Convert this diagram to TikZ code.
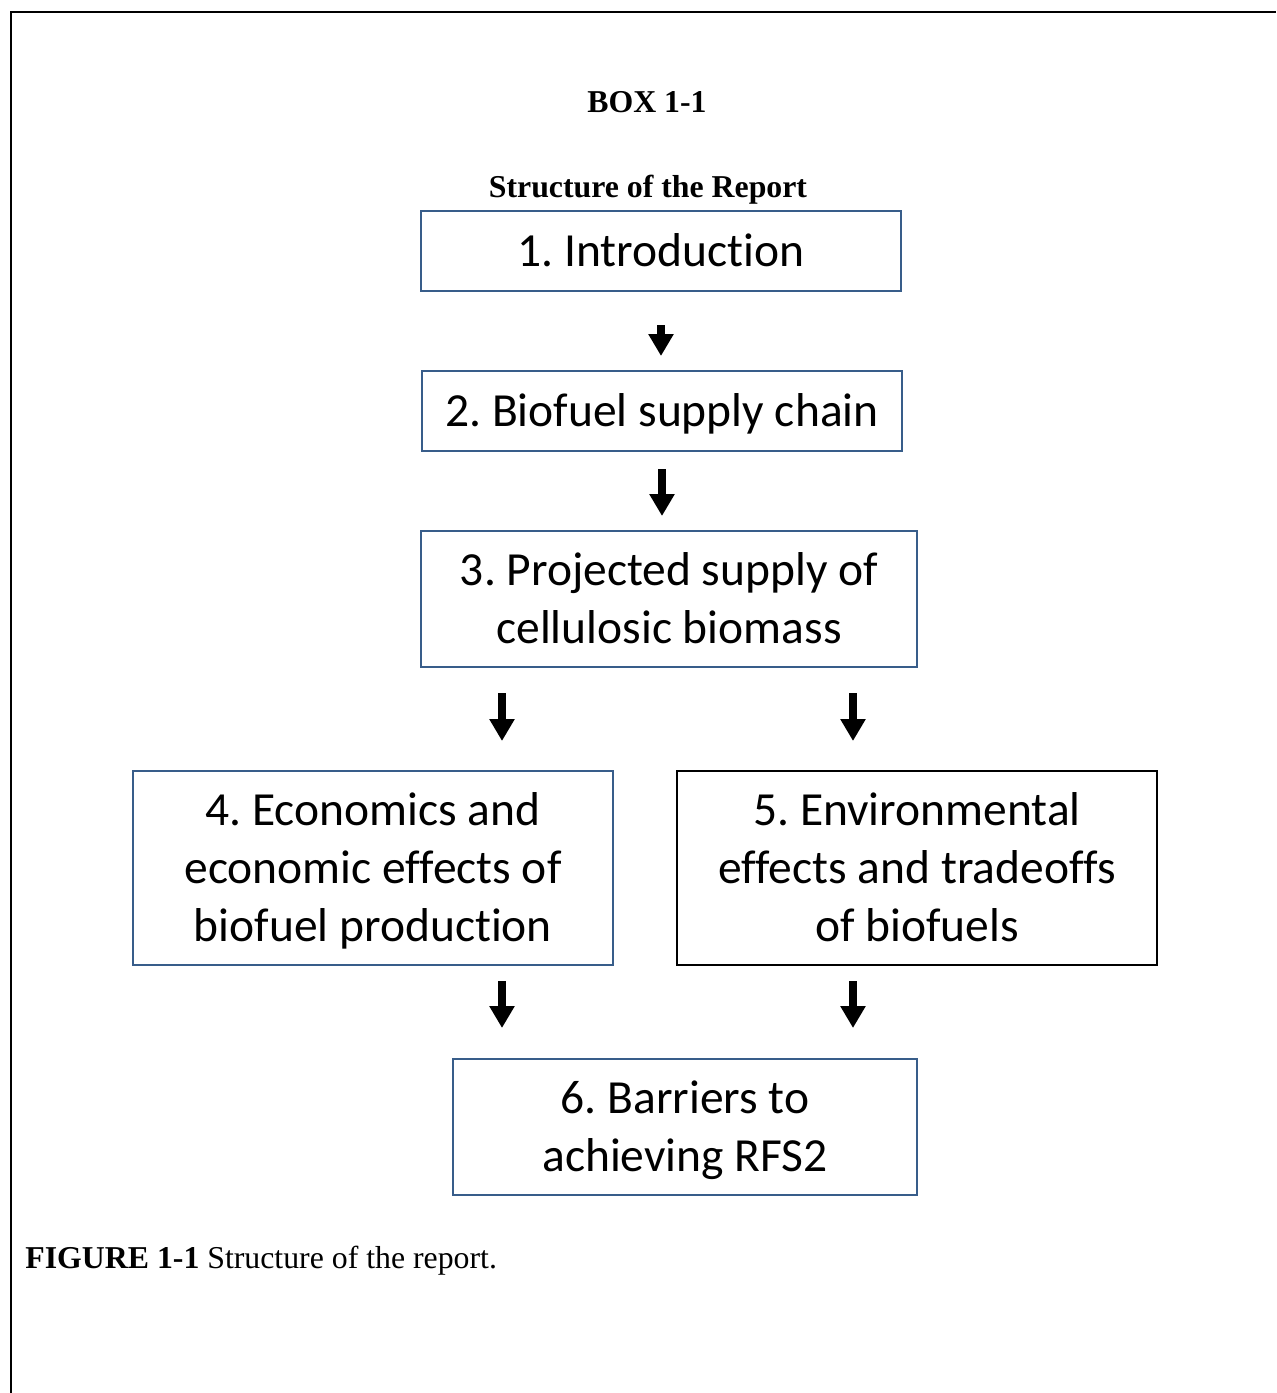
\documentclass[tikz,border=0pt]{standalone}
\usepackage{fontspec}
\setmainfont{Liberation Serif}
\newfontfamily\boxfont[Ligatures=NoCommon]{Carlito}
\usepackage{tikz}
\usetikzlibrary{arrows.meta, positioning}
\definecolor{boxblue}{RGB}{56,93,138}
\newcommand{\capstrut}{\rule[-6.8pt]{0pt}{28.8pt}}
\frenchspacing

\begin{document}
\begin{tikzpicture}[x=0.5pt, y=-0.5pt,
    chapter/.style={draw=boxblue, line width=1pt, inner sep=0pt, align=center,
        font=\boxfont\fontsize{23.75}{29}\selectfont,
        execute at begin node=\capstrut, execute at end node=\capstrut},
    downarrow/.style={line width=3.75pt, -{Triangle[width=12pt, length=11pt]}},
    heading/.style={font=\fontsize{15.9}{19}\selectfont\bfseries, anchor=base}]
    \useasboundingbox (0,0) rectangle (1276,1393);

    % Frame
    \draw[line width=1.35pt] (11,1393) -- (11,12) -- (1276,12);

    % Headings
    \node[heading] (boxno) at (647,112) {BOX 1-1};
    \node[heading] (title) at (648,197) {Structure of the Report};

    % Chapters
    \node[chapter, minimum width=240pt, minimum height=40pt] (intro) at (661,251) {1. Introduction};
    \node[chapter, minimum width=240pt, minimum height=40pt] (chain) at (662,411) {2. Biofuel supply chain};
    \node[chapter, minimum width=248pt, minimum height=68pt] (supply) at (669,599) {\capstrut 3. Projected supply of\\cellulosic biomass};
    \node[chapter, minimum width=240pt, minimum height=97pt] (econ) at (373,868) {\capstrut 4. Economics and\\economic effects of\\biofuel production};
    \node[chapter, draw=black, minimum width=240pt, minimum height=97pt] (enviro) at (917,868) {\capstrut 5. Environmental\\effects and tradeoffs\\of biofuels};
    \node[chapter, minimum width=232pt, minimum height=68pt] (barrier) at (685,1127) {\capstrut 6. Barriers to\\achieving RFS2};

    % Arrows
    \draw[downarrow, shorten <=16.5pt, shorten >=7pt] (intro.south) -- (intro.south |- chain.north);
    \draw[downarrow, shorten <=8.5pt, shorten >=7pt] (chain.south) -- (chain.south |- supply.north);
    \foreach \n/\s in {econ/64.5pt, enviro/-32pt} {
        \draw[downarrow, shorten <=12.5pt, shorten >=14.5pt] ([xshift=\s]\n.north |- supply.south) -- ([xshift=\s]\n.north);
        \draw[downarrow, shorten <=7.5pt, shorten >=15pt] ([xshift=\s]\n.south) -- ([xshift=\s]\n.south |- barrier.north);
    }

    % Caption
    \node[anchor=base west, inner sep=0pt, font=\fontsize{15.9}{19}\selectfont] (caption) at (25,1268)
        {\textbf{FIGURE 1-1} Structure of the report.};
\end{tikzpicture}
\end{document}
